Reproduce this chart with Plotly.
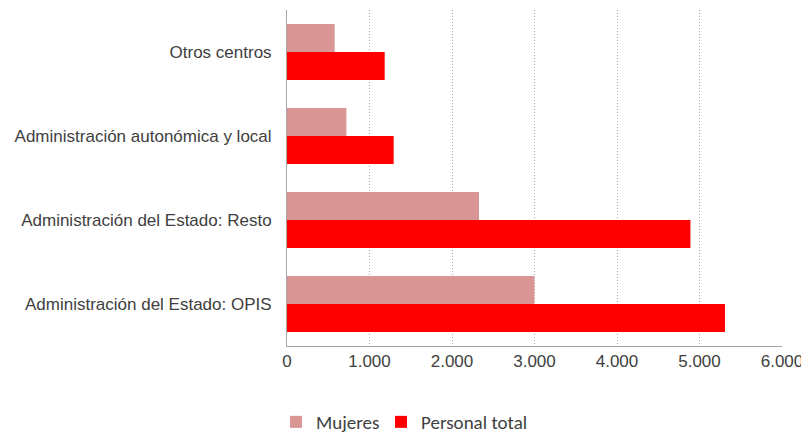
import plotly.graph_objects as go

categories = ["Administración del Estado: OPIS", "Administración del Estado: Resto",
              "Administración autonómica y local", "Otros centros"]
mujeres = [2999, 2327, 720, 578]
total = [5309, 4890, 1293, 1184]
x_ticks = [0, 1000, 2000, 3000, 4000, 5000, 6000]

fig = go.Figure()
fig.add_trace(go.Bar(y=categories, x=total, orientation="h", name="Personal total",
                     marker=dict(color="#FF0000", line=dict(width=0)), legend="legend2"))
fig.add_trace(go.Bar(y=categories, x=mujeres, orientation="h", name="Mujeres",
                     marker=dict(color="#D99694", line=dict(width=0)), legend="legend"))

legend_font = dict(family="Carlito, Noto Sans, Liberation Sans", size=19, color="#404040")

fig.update_layout(
    width=801, height=433,
    margin=dict(l=279, r=27, t=2, b=95),
    paper_bgcolor="white", plot_bgcolor="white",
    barmode="group", bargap=0.333, bargroupgap=0,
    separators=",.",
    font=dict(family="Liberation Sans, Arial", size=17, color="#404040"),
    xaxis=dict(range=[0, 6000], tickvals=x_ticks, tickformat=",d", automargin=False,
               showgrid=True, gridcolor="#A6A6A6", griddash="1px,2px", gridwidth=1,
               showline=True, linecolor="#A6A6A6", linewidth=1,
               zeroline=False, ticks="", ticklen=0,
               tickfont=dict(size=17, color="#404040")),
    yaxis=dict(showline=True, linecolor="#A6A6A6", linewidth=1, showgrid=False,
               ticks="", ticklabelstandoff=11, automargin=False,
               tickfont=dict(size=17, color="#404040")),
    showlegend=True,
    legend=dict(orientation="h", xref="container", x=268 / 801, xanchor="left",
                yref="container", y=0.0, yanchor="bottom", bgcolor="rgba(0,0,0,0)",
                font=legend_font, itemwidth=30),
    legend2=dict(orientation="h", xref="container", x=373 / 801, xanchor="left",
                 yref="container", y=0.0, yanchor="bottom", bgcolor="rgba(0,0,0,0)",
                 font=legend_font, itemwidth=30),
)

fig.write_html("out.html")
